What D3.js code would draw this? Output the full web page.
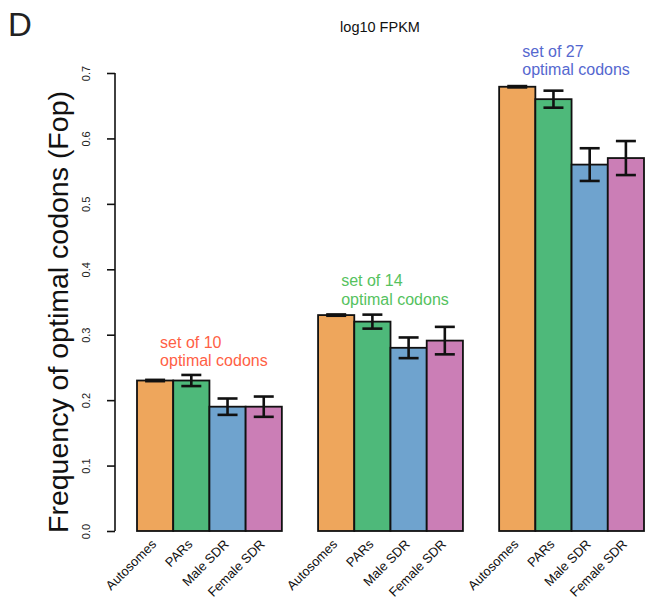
<!DOCTYPE html>
<html>
<head>
<meta charset="utf-8">
<script src="https://cdn.jsdelivr.net/npm/d3@7"></script>
<style>
  html, body { margin: 0; padding: 0; background: #fff; }
  svg { display: block; }
  text { font-family: "Liberation Sans", Arial, Helvetica, sans-serif; }
</style>
</head>
<body>
<script>
// ---- data ----
const categories = ["Autosomes", "PARs", "Male SDR", "Female SDR"];
const groupNames = ["set of 10", "set of 14", "set of 27"];
const groupSubtitle = "optimal codons";
const set10Values = [0.23, 0.23, 0.19, 0.19];
const set10Errors = [0.001, 0.0085, 0.0125, 0.0155];
const set14Values = [0.33, 0.32, 0.28, 0.291];
const set14Errors = [0.001, 0.0107, 0.0158, 0.021];
const set27Values = [0.679, 0.66, 0.56, 0.57];
const set27Errors = [0.001, 0.013, 0.025, 0.026];
const yTicks = [0.0, 0.1, 0.2, 0.3, 0.4, 0.5, 0.6, 0.7];
const barColors = ["#EEA65C", "#4EB97A", "#6FA3CE", "#CB7EB6"];
const groupLabelColors = ["#FF5F45", "#55C25E", "#5568CF"];

const groups = [
  { name: groupNames[0], values: set10Values, errors: set10Errors },
  { name: groupNames[1], values: set14Values, errors: set14Errors },
  { name: groupNames[2], values: set27Values, errors: set27Errors }
];

const W = 646, H = 603;
const svg = d3.select("body").append("svg").attr("width", W).attr("height", H);

const y = d3.scaleLinear().domain([0, 0.7]).range([531, 73]);

// slots: 4 bars, 1 gap, 4 bars, 1 gap, 4 bars
const slots = d3.range(14).map(String);
const x = d3.scaleBand().domain(slots).range([137, 644]).paddingInner(0).paddingOuter(0);
const bw = x.bandwidth();

// Panel letter and title
svg.append("text").attr("x", 8).attr("y", 36).attr("font-size", 33).attr("fill", "#222").text("D");
svg.append("text").attr("x", 380).attr("y", 32).attr("text-anchor", "middle")
  .attr("font-size", 14.5).attr("fill", "#111").text("log10 FPKM");

// Y axis
const yAxis = d3.axisLeft(y).tickValues(yTicks).tickSize(8).tickFormat(d3.format(".1f"));
const ag = svg.append("g").attr("transform", "translate(115,0)").call(yAxis);
ag.select(".domain").attr("stroke", "#111").attr("stroke-width", 1.6)
  .attr("d", `M0,${y(0.7)}V${y(0)}`);
ag.selectAll(".tick line").attr("stroke", "#111").attr("stroke-width", 1.6);
ag.selectAll(".tick text")
  .attr("font-size", 11).attr("fill", "#222")
  .attr("x", null).attr("dy", null)
  .attr("text-anchor", "middle")
  .attr("transform", "translate(-25,0) rotate(-90)");

svg.append("text")
  .attr("transform", `translate(68,312) rotate(-90)`)
  .attr("text-anchor", "middle").attr("font-size", 28.5).attr("fill", "#111")
  .text("Frequency of optimal codons (Fop)");

const labelGap = [33, 29, 30];

// Bars
groups.forEach((g, gi) => {
  const gg = svg.append("g");
  const slotOf = i => String(gi * 5 + i);
  gg.selectAll("rect").data(g.values).join("rect")
    .attr("x", (d, i) => x(slotOf(i)))
    .attr("y", d => y(d))
    .attr("width", bw)
    .attr("height", d => y(0) - y(d))
    .attr("fill", (d, i) => barColors[i])
    .attr("stroke", "#111").attr("stroke-width", 1.8);

  // error bars
  g.values.forEach((v, i) => {
    const cx = x(slotOf(i)) + bw / 2;
    const e = g.errors[i];
    const top = y(v + e), bot = y(v - e);
    gg.append("line").attr("x1", cx).attr("x2", cx).attr("y1", top).attr("y2", bot)
      .attr("stroke", "#111").attr("stroke-width", 2.6);
    [top, bot].forEach(yy => {
      gg.append("line").attr("x1", cx - 10).attr("x2", cx + 10).attr("y1", yy).attr("y2", yy)
        .attr("stroke", "#111").attr("stroke-width", 2.6);
    });
  });

  // category labels
  categories.forEach((c, i) => {
    const cx = x(slotOf(i)) + bw / 2;
    svg.append("text")
      .attr("transform", `translate(${cx + 2},${545}) rotate(-45)`)
      .attr("text-anchor", "end").attr("font-size", 13).attr("fill", "#111")
      .text(c);
  });

  // group label
  const lx = x(slotOf(0)) + bw / 2 + 5;
  const ly = y(g.values[0]) - labelGap[gi];
  const t = svg.append("text").attr("font-size", 16).attr("fill", groupLabelColors[gi]);
  t.append("tspan").attr("x", lx).attr("y", ly).text(g.name);
  t.append("tspan").attr("x", lx).attr("y", ly + 18.5).text(groupSubtitle);
});
</script>
</body>
</html>
